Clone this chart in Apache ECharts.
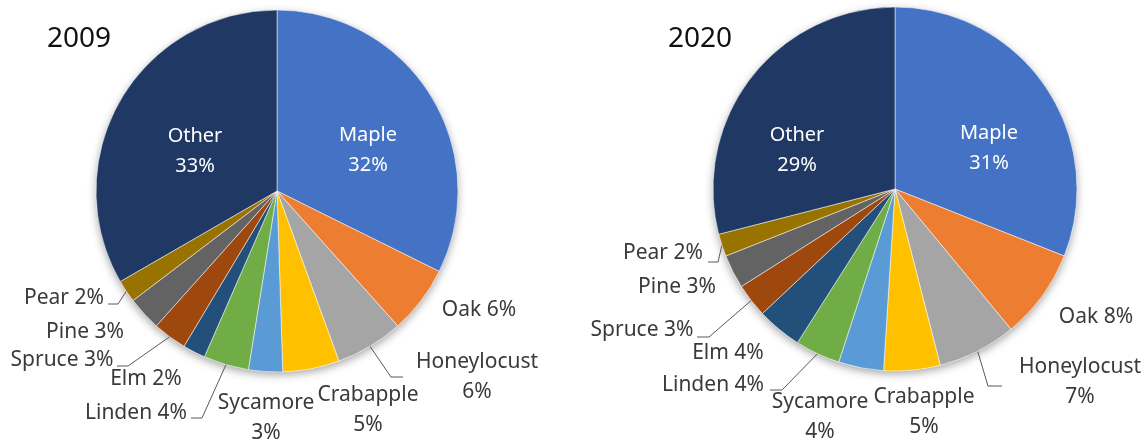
<!DOCTYPE html>
<html>
<head>
<meta charset="utf-8">
<script src="https://cdn.jsdelivr.net/npm/echarts@6/dist/echarts.min.js"></script>
<style>
html,body{margin:0;padding:0;background:#fff;}
#chart{width:1148px;height:440px;}
</style>
</head>
<body>
<div id="chart"></div>
<script>
// ---- data ----
const categories = ['Maple','Oak','Honeylocust','Crabapple','Sycamore','Linden','Elm','Spruce','Pine','Pear','Other'];
const values2009 = [32, 6, 6, 5, 3, 4, 2, 3, 3, 2, 33];
const values2020 = [31, 8, 7, 5, 4, 4, 4, 3, 3, 2, 29];
const years = ['2009', '2020'];

// ---- styles / layout ----
const colors = ['#4472C4','#ED7D31','#A5A5A5','#FFC000','#5B9BD5','#70AD47','#22507A','#9E480E','#636363','#997300','#203864'];
const FONT = 'Noto Sans';
const pies = [
  {center:[277,191], radius:181, titlePos:[47,24]},
  {center:[895,189], radius:182, titlePos:[668,24]}
];
// label block centres, number of lines, optional leader (elbow, end)
const labelLayouts = [
  {
    Maple:{x:368,y:150,lines:2,inside:true},
    Other:{x:195,y:151,lines:2,inside:true},
    Oak:{x:479,y:310,lines:1},
    Honeylocust:{x:477,y:377,lines:2,elbow:[391,377],end:[403,377]},
    Crabapple:{x:368,y:410,lines:2},
    Sycamore:{x:266,y:418,lines:2},
    Linden:{x:136,y:413,lines:1,elbow:[202,418],end:[191,418]},
    Elm:{x:146,y:379,lines:1},
    Spruce:{x:62,y:360,lines:1,elbow:[128,366],end:[117,366]},
    Pine:{x:85,y:332,lines:1},
    Pear:{x:64,y:298,lines:1,elbow:[118,304],end:[108,304]}
  },
  {
    Maple:{x:989,y:148,lines:2,inside:true},
    Other:{x:797,y:150,lines:2,inside:true},
    Oak:{x:1096,y:317,lines:1},
    Honeylocust:{x:1080,y:382,lines:2,elbow:[988,386],end:[1002,386]},
    Crabapple:{x:924,y:412,lines:2},
    Sycamore:{x:820,y:417,lines:2},
    Linden:{x:713,y:385,lines:1,elbow:[782,390],end:[770,390]},
    Elm:{x:728,y:353,lines:1},
    Spruce:{x:642,y:330,lines:1,elbow:[709,337],end:[697,337]},
    Pine:{x:677,y:287,lines:1},
    Pear:{x:663,y:253,lines:1,elbow:[718,262],end:[708,262]}
  }
];

const allValues = [values2009, values2020];

function midEdgePoint(pieIdx, dataIdx) {
  const vals = allValues[pieIdx];
  const total = vals.reduce((a,b)=>a+b,0);
  let cum = 0;
  for (let i = 0; i < dataIdx; i++) cum += vals[i];
  const mid = (cum + vals[dataIdx]/2) / total * Math.PI * 2;
  const p = pies[pieIdx];
  return [p.center[0] + p.radius*Math.sin(mid), p.center[1] - p.radius*Math.cos(mid)];
}

const series = [];
const titles = [];
pies.forEach((p, pi) => {
  titles.push({
    text: years[pi], left: p.titlePos[0], top: p.titlePos[1], padding: 0,
    textStyle: {fontFamily: FONT, fontSize: 28, fontWeight: 'normal', color: '#111', lineHeight: 30}
  });
  // soft drop shadow under the pie
  series.push({
    type: 'pie', center: p.center, radius: p.radius, silent: true, animation: false,
    label: {show: false}, labelLine: {show: false}, z: 1,
    data: [{value: 1, itemStyle: {color: '#ffffff', shadowBlur: 9, shadowColor: 'rgba(0,0,0,0.35)', shadowOffsetY: 3}}]
  });
  const L = labelLayouts[pi];
  series.push({
    type: 'pie', center: p.center, radius: p.radius, startAngle: 90, clockwise: true,
    animation: false, avoidLabelOverlap: false, z: 2,
    itemStyle: {borderColor: '#ffffff', borderWidth: 0.5},
    label: {
      show: true, position: 'outside', fontFamily: FONT, fontSize: 21, lineHeight: 30,
      color: '#3a3a3a', overflow: 'none',
      formatter: function (params) {
        const cfg = L[params.name];
        return cfg.lines === 2 ? params.name + '\n' + params.value + '%' : params.name + ' ' + params.value + '%';
      }
    },
    labelLine: {show: false, lineStyle: {color: '#595959', width: 1}},
    labelLayout: function (params) {
      const name = categories[params.dataIndex];
      const cfg = L[name];
      const out = {x: cfg.x, y: cfg.y, align: 'center', verticalAlign: 'middle'};
      if (cfg.elbow) {
        const start = midEdgePoint(pi, params.dataIndex);
        out.labelLinePoints = [start, cfg.elbow, cfg.end];
      }
      return out;
    },
    data: categories.map((c, i) => ({
      name: c,
      value: allValues[pi][i],
      itemStyle: {color: colors[i]},
      label: L[c].inside ? {color: '#ffffff', fontSize: 20} : {},
      labelLine: {show: !!L[c].elbow, length: 10, length2: 10}
    }))
  });
});

const chart = echarts.init(document.getElementById('chart'), null, {renderer: 'canvas'});
chart.setOption({
  backgroundColor: '#ffffff',
  animation: false,
  title: titles,
  series: series
});
</script>
</body>
</html>
